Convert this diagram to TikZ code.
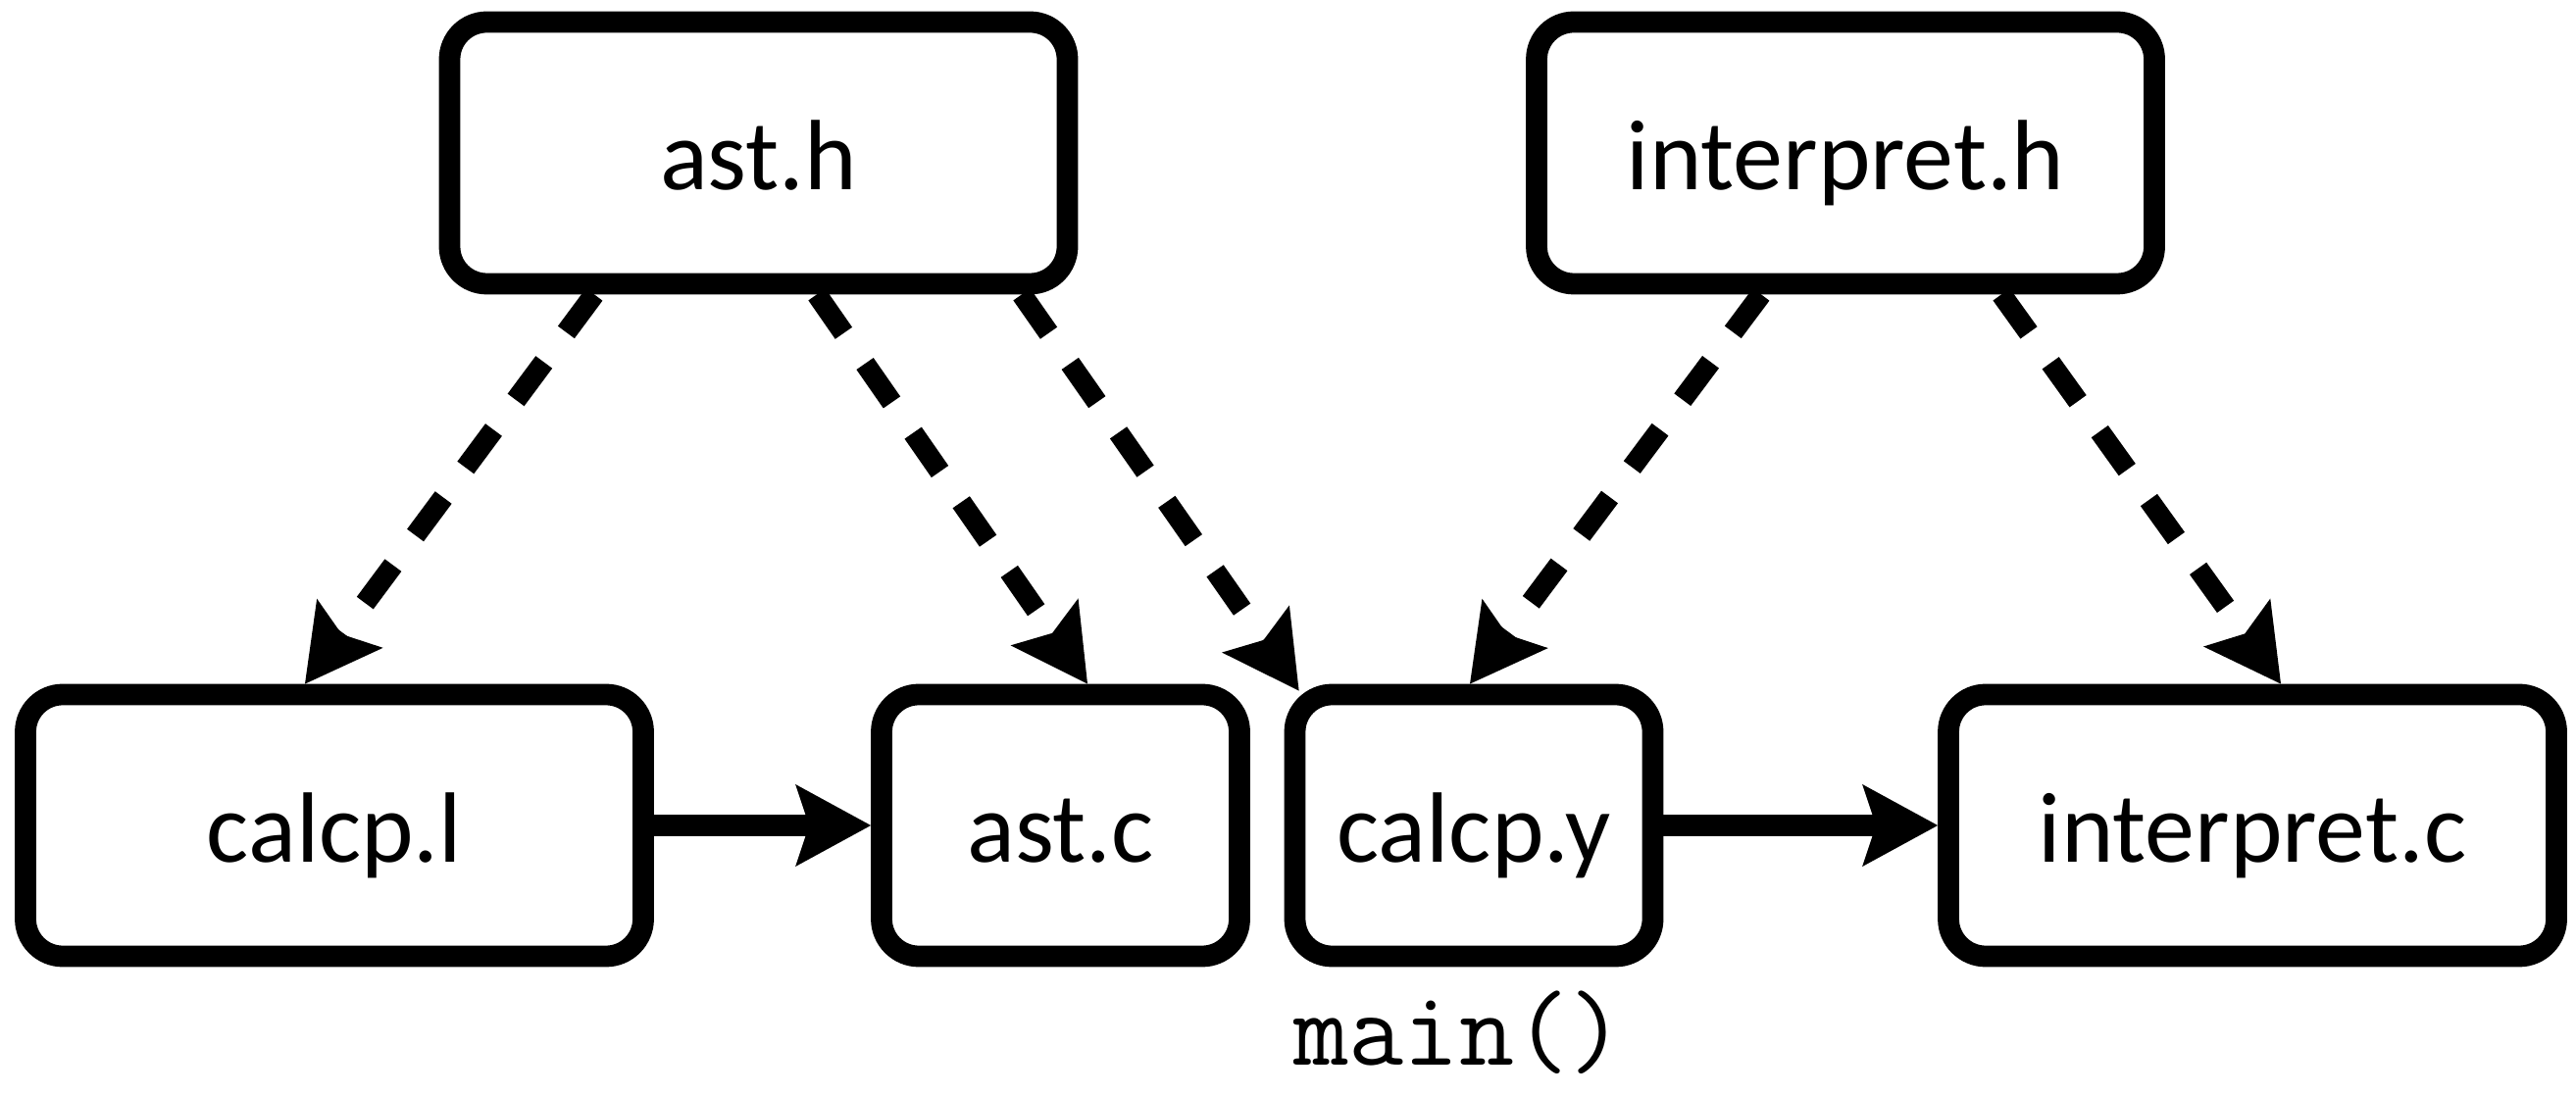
\documentclass[tikz,border=0pt]{standalone}
\usepackage{fontspec}
\setmainfont{Carlito}
\usetikzlibrary{arrows.meta}

\begin{document}
\begin{tikzpicture}[
    filebox/.style={draw, line width=6.2pt, rounded corners=0.38cm, minimum height=2.67cm,
        inner sep=0pt, text height=21.6pt, text depth=0pt, font=\fontsize{29pt}{35pt}\selectfont},
    widebox/.style={filebox, minimum width=6.3cm},
    narrowbox/.style={filebox, minimum width=3.65cm},
    link/.style={line width=6pt, -{Stealth[length=0.77cm, width=0.84cm, inset=0.14cm, line width=0pt]}},
    uses/.style={link, dash pattern=on 0.48cm off 0.38cm}
]
\useasboundingbox (0,0) rectangle (26.27,11.17);

        \node[widebox] (asth) at (7.735,9.61) {ast.h};
        \node[widebox] (interph) at (18.82,9.61) {interpret.h};

        \node[widebox] (calcpl) at (3.41,2.75) {calcp.l};
        \node[narrowbox] (astc) at (10.815,2.75) {ast.c};
        \node[narrowbox] (calcpy) at (15.03,2.75) {calcp.y};
        \node[widebox, minimum width=6.2cm] (interpc) at (22.97,2.75) {interpret.c};

        \node[font=\ttfamily\fontsize{31pt}{36pt}\selectfont, anchor=base] (mainfn) at (14.88,0.31) {main()};

        \draw[link] (calcpl) -- (astc);
        \draw[link] (calcpy) -- (interpc);

        \draw[uses] ([xshift=-1.675cm]asth.south) -- ([xshift=-0.30cm]calcpl.north);
        \draw[uses] ([xshift=0.595cm]asth.south) -- ([xshift=0.275cm]astc.north);
        \draw[uses] ([xshift=2.685cm]asth.south) -- ([shift={(0.15cm,-0.07cm)}]calcpy.north west);
        \draw[uses] ([xshift=-0.86cm]interph.south) -- ([xshift=-0.04cm]calcpy.north);
        \draw[uses] ([xshift=1.59cm]interph.south) -- ([xshift=0.29cm]interpc.north);
\end{tikzpicture}
\end{document}
